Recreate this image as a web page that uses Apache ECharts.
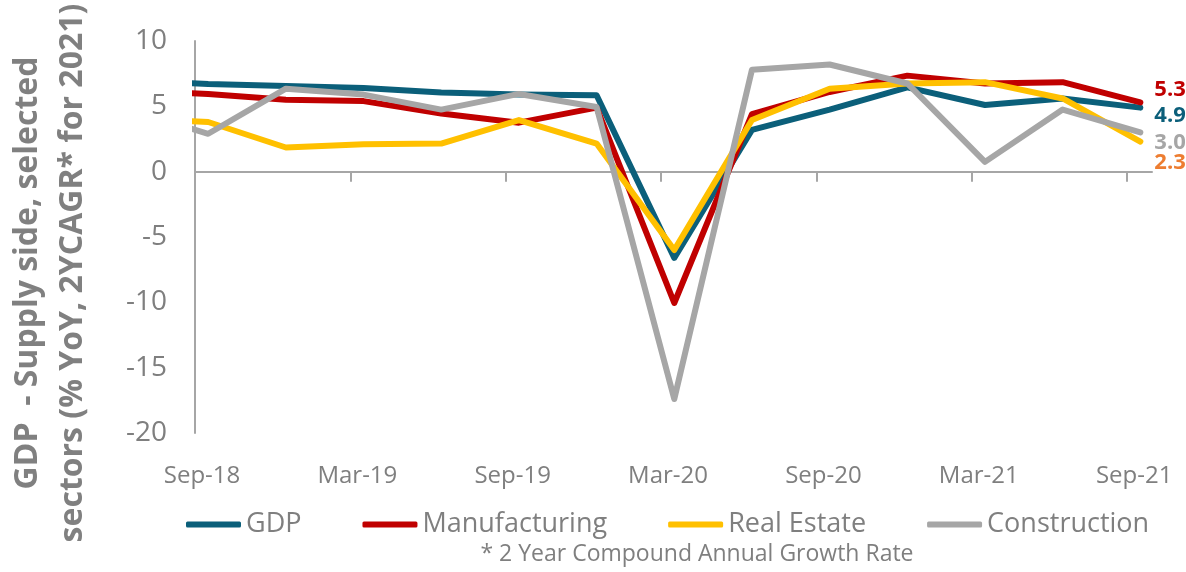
<!DOCTYPE html>
<html>
<head>
<meta charset="utf-8">
<title>GDP - Supply side</title>
<script src="https://cdn.jsdelivr.net/npm/echarts@6/dist/echarts.min.js"></script>
<style>
  html, body { margin: 0; padding: 0; background: #fff; }
  #chart { width: 1186px; height: 572px; }
</style>
</head>
<body>
<div id="chart"></div>
<script>
// quarters (Jun-18 is only partly visible, it gets clipped by the y axis)
const quarters = ['Jun-18', 'Sep-18', 'Dec-18', 'Mar-19', 'Jun-19', 'Sep-19', 'Dec-19',
  'Mar-20', 'Jun-20', 'Sep-20', 'Dec-20', 'Mar-21', 'Jun-21', 'Sep-21'];

// % YoY, 2Y CAGR for 2021
const gdp = [7.0, 6.7, 6.55, 6.4, 6.05, 5.9, 5.85, -6.6, 3.2, 4.75, 6.45, 5.1, 5.6, 4.9];
const manufacturing = [6.2, 5.95, 5.5, 5.4, 4.45, 3.75, 4.9, -10.05, 4.4, 6.1, 7.35, 6.75, 6.85, 5.3];
const realEstate = [4.1, 3.8, 1.85, 2.1, 2.15, 3.95, 2.15, -6.0, 3.95, 6.35, 6.75, 6.85, 5.6, 2.3];
const construction = [4.7, 2.9, 6.35, 5.9, 4.75, 5.95, 4.95, -17.4, 7.8, 8.2, 6.75, 0.75, 4.75, 3.0];

const yTicks = [-20, -15, -10, -5, 0, 5, 10];

const fontFamily = '"Open Sans", sans-serif';
const textGrey = '#7f7f7f';
const axisGrey = '#a6a6a6';

// date axis in the original: ticks sit a bit before the quarter points
const tickShift = 0.17;
const labelShift = 0.08;
const xMin = 1 - tickShift;
const xMax = xMin + 12.32;

// line colour, end label colour, end label vertical nudge
const styles = [
  { name: 'GDP', values: gdp, color: '#0b5f7a', labelColor: '#0b5f7a', dy: 8 },
  { name: 'Manufacturing', values: manufacturing, color: '#c00000', labelColor: '#c00000', dy: -13 },
  { name: 'Real Estate', values: realEstate, color: '#ffc000', labelColor: '#ed7d31', dy: 21 },
  { name: 'Construction', values: construction, color: '#a6a6a6', labelColor: '#a6a6a6', dy: 10 },
];

const myChart = echarts.init(document.getElementById('chart'), null, { renderer: 'canvas' });

const seriesList = styles.map((s) => ({
  name: s.name,
  type: 'line',
  xAxisIndex: 0,
  yAxisIndex: 0,
  data: s.values.map((v, i) => [i, v]),
  showSymbol: false,
  symbol: 'none',
  clip: true,
  lineStyle: { color: s.color, width: 6, cap: 'round', join: 'round' },
  itemStyle: { color: s.color },
  emphasis: { disabled: true },
  // value of the last quarter next to the line end
  endLabel: {
    show: true,
    distance: 14,
    offset: [0, s.dy],
    color: s.labelColor,
    fontFamily: fontFamily,
    fontWeight: 'bold',
    fontSize: 22,
    formatter: (p) => p.value[1].toFixed(1),
  },
}));

// tick marks every second quarter, labels on (almost) the quarter points
const oddIdx = quarters.map((q, i) => i).filter((i) => i % 2 === 1);
const tickValues = oddIdx.map((i) => i - tickShift);
const labelValues = oddIdx.map((i) => i - labelShift);

const option = {
  animation: false,
  backgroundColor: '#fff',
  grid: {
    left: 195,
    right: 34,
    top: 41,
    bottom: 139,
    outerBoundsMode: 'none',
  },
  xAxis: [
    {
      // the zero line with its ticks
      type: 'value',
      min: xMin,
      max: xMax,
      axisLine: { show: true, onZero: true, lineStyle: { color: axisGrey, width: 2 } },
      axisTick: { show: true, length: 10, customValues: tickValues, lineStyle: { color: axisGrey, width: 2 } },
      axisLabel: { show: false },
      splitLine: { show: false },
    },
    {
      // quarter labels at the bottom
      type: 'value',
      position: 'bottom',
      min: xMin,
      max: xMax,
      axisLine: { show: false, onZero: false },
      axisTick: { show: false },
      splitLine: { show: false },
      axisLabel: {
        customValues: labelValues,
        formatter: (v) => quarters[Math.round(v)],
        color: textGrey,
        fontFamily: fontFamily,
        fontSize: 24,
        margin: 31,
      },
    },
  ],
  yAxis: {
    type: 'value',
    min: yTicks[0],
    max: yTicks[yTicks.length - 1],
    interval: 5,
    axisLine: { show: true, onZero: false, lineStyle: { color: axisGrey, width: 2 } },
    axisTick: { show: false },
    splitLine: { show: false },
    axisLabel: { color: textGrey, fontFamily: fontFamily, fontSize: 28, margin: 28 },
  },
  legend: {
    data: styles.map((s) => s.name),
    left: 181,
    top: 506,
    icon: 'roundRect',
    itemWidth: 55,
    itemHeight: 6,
    itemGap: 61,
    textStyle: { color: textGrey, fontFamily: fontFamily, fontSize: 27 },
  },
  graphic: [
    {
      type: 'text',
      x: 50,
      y: 273,
      rotation: Math.PI / 2,
      style: {
        text: 'GDP  - Supply side, selected\nsectors (% YoY, 2YCAGR* for 2021)',
        fontFamily: fontFamily,
        fontWeight: 'bold',
        fontSize: 32,
        fill: '#808080',
        align: 'center',
        verticalAlign: 'middle',
        lineHeight: 45,
      },
    },
    {
      type: 'text',
      x: 697,
      y: 554,
      style: {
        text: '* 2 Year Compound Annual Growth Rate',
        fontFamily: fontFamily,
        fontSize: 23,
        fill: textGrey,
        align: 'center',
        verticalAlign: 'middle',
      },
    },
  ],
  series: seriesList,
};

myChart.setOption(option);
</script>
</body>
</html>
